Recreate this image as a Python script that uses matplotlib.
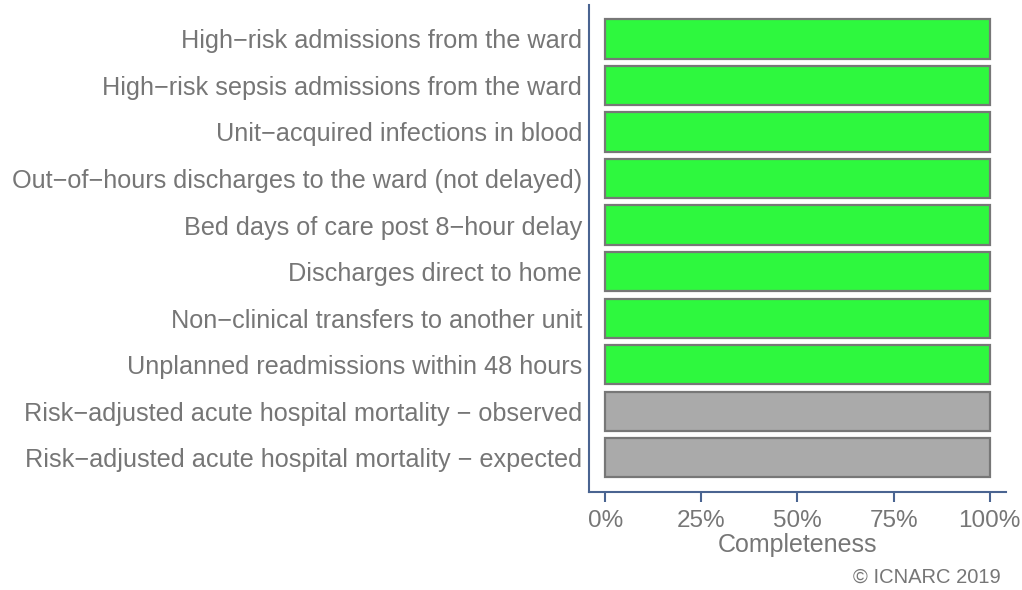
import matplotlib
matplotlib.use("Agg")
import matplotlib.pyplot as plt

plt.rcParams['font.family'] = ['Liberation Sans', 'DejaVu Sans']

indicators = [
    "High\u2212risk admissions from the ward",
    "High\u2212risk sepsis admissions from the ward",
    "Unit\u2212acquired infections in blood",
    "Out\u2212of\u2212hours discharges to the ward (not delayed)",
    "Bed days of care post 8\u2212hour delay",
    "Discharges direct to home",
    "Non\u2212clinical transfers to another unit",
    "Unplanned readmissions within 48 hours",
    "Risk\u2212adjusted acute hospital mortality \u2212 observed",
    "Risk\u2212adjusted acute hospital mortality \u2212 expected",
]
completeness = [100, 100, 100, 100, 100, 100, 100, 100, 100, 100]
status = ["ok", "ok", "ok", "ok", "ok", "ok", "ok", "ok", "na", "na"]
xticks = [0, 25, 50, 75, 100]
xtick_labels = ["0%", "25%", "50%", "75%", "100%"]

fill = {"ok": "#2ef83e", "na": "#aaaaaa"}
axis_col = "#4a6491"
text_col = "#767676"

fig = plt.figure(figsize=(10.22, 5.9), dpi=100)
ax = fig.add_axes([0.5763, 0.1661, 0.408, 0.8254])

n = len(indicators)
ypos = [n - 1 - i for i in range(n)]
ax.barh(ypos, completeness, height=0.84,
        color=[fill[s] for s in status], edgecolor="#777777", linewidth=1.6)

ax.set_xlim(-4.2, 104.2)
ax.set_ylim(-0.74, n - 0.27)
ax.set_yticks(ypos)
ax.set_yticklabels(indicators, fontsize=18.2, color=text_col)
ax.set_xticks(xticks)
ax.set_xticklabels(xtick_labels, fontsize=17.5, color=text_col)
ax.tick_params(axis="y", length=0, pad=5)
ax.tick_params(axis="x", length=7, width=1.5, color=axis_col, pad=6)
ax.set_xlabel("Completeness", fontsize=18, color=text_col, labelpad=1)

for side in ["top", "right"]:
    ax.spines[side].set_visible(False)
for side in ["left", "bottom"]:
    ax.spines[side].set_color(axis_col)
    ax.spines[side].set_linewidth(1.5)

fig.text(0.979, 0.005, "\u00a9 ICNARC 2019", ha="right", va="bottom",
         fontsize=14.5, color=text_col)

fig.savefig("out.png", dpi=100)
